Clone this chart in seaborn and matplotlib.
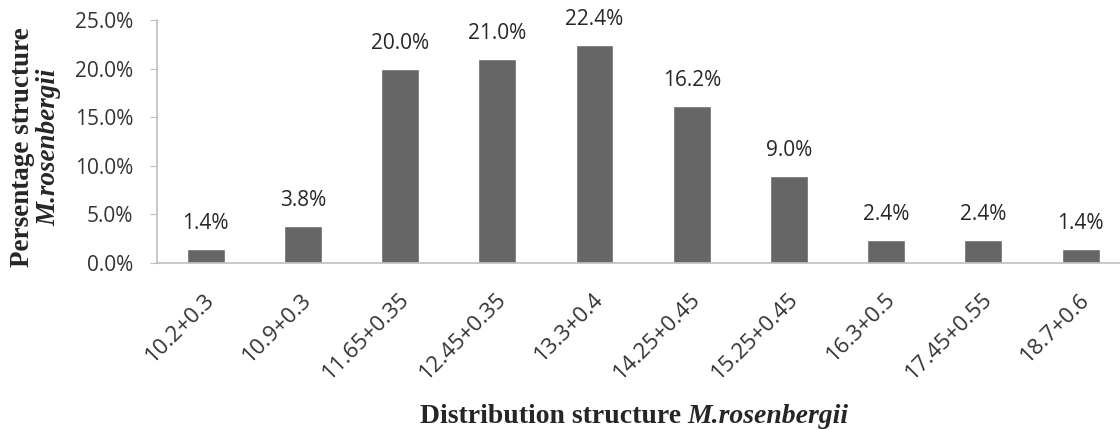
import numpy as np
import pandas as pd
import matplotlib
matplotlib.use('Agg')
import matplotlib.pyplot as plt
import matplotlib.transforms as mtransforms
import seaborn as sns
from matplotlib.ticker import PercentFormatter

sns.set_style('white')
plt.rcParams['font.family'] = ['Open Sans', 'DejaVu Sans']

# 数据
categories = ['10.2+0.3', '10.9+0.3', '11.65+0.35', '12.45+0.35', '13.3+0.4',
              '14.25+0.45', '15.25+0.45', '16.3+0.5', '17.45+0.55', '18.7+0.6']
values = [1.4, 3.8, 20.0, 21.0, 22.4, 16.2, 9.0, 2.4, 2.4, 1.4]

df = pd.DataFrame({'size': categories, 'pct': values})

fig = plt.figure(figsize=(11.2, 4.3), dpi=100)
ax = fig.add_axes([0.1402, 0.3884, 0.868, 0.565])

sns.barplot(data=df, x='size', y='pct', color='#666666', width=0.39,
            saturation=1, ax=ax)

# 柱顶数值标签
for p, v in zip(ax.patches, values):
    ax.text(p.get_x() + p.get_width() / 2, v + 2.05, f'{v:.1f}%',
            ha='center', va='baseline', fontsize=15, color='#262626')

ax.set_ylim(0, 25)
ax.set_yticks(np.arange(0, 25.1, 5))
ax.yaxis.set_major_formatter(PercentFormatter(decimals=1))
ax.tick_params(axis='y', labelsize=15, length=5, color='#bfbfbf',
               labelcolor='#333333', left=True, pad=12)
ax.tick_params(axis='x', labelsize=16, length=0, labelcolor='#333333', pad=24)
shift = mtransforms.ScaledTranslation(6 / 100, 0, fig.dpi_scale_trans)
for lbl in ax.get_xticklabels():
    lbl.set_rotation(45)
    lbl.set_ha('right')
    lbl.set_va('center')
    lbl.set_rotation_mode('anchor')
    lbl.set_transform(lbl.get_transform() + shift)

for s in ['top', 'right']:
    ax.spines[s].set_visible(False)
for s in ['left', 'bottom']:
    ax.spines[s].set_color('#bfbfbf')
    ax.spines[s].set_linewidth(1.2)

ax.set_xlabel('')
ax.set_ylabel('')

serif = ['Liberation Serif', 'DejaVu Serif']
fig.text(0.0205, 0.657, 'Persentage structure', rotation=90, ha='center', va='center',
         fontsize=19.5, fontweight='bold', family=serif)
fig.text(0.044, 0.657, 'M.rosenbergii', rotation=90, ha='center', va='center',
         fontsize=19.5, fontweight='bold', style='italic', family=serif)

fig.text(0.614, 0.017, 'Distribution structure ', ha='right', va='baseline',
         fontsize=20, fontweight='bold', family=serif)
fig.text(0.614, 0.017, 'M.rosenbergii', ha='left', va='baseline',
         fontsize=20, fontweight='bold', style='italic', family=serif)

fig.savefig('out.png', dpi=100)
